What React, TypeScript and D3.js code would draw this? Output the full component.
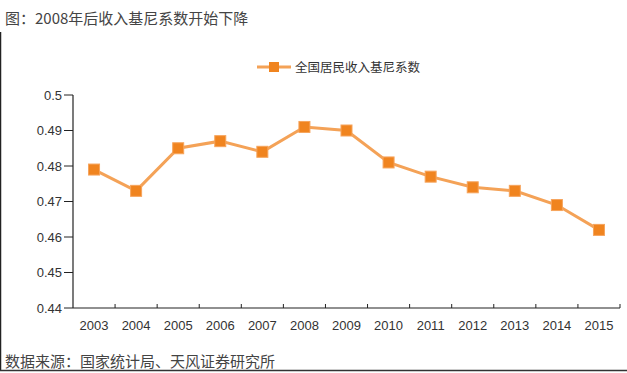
import * as d3 from "d3";
import { useEffect, useRef } from "react";

const years = ["2003", "2004", "2005", "2006", "2007", "2008", "2009", "2010", "2011", "2012", "2013", "2014", "2015"];
const gini = [0.479, 0.473, 0.485, 0.487, 0.484, 0.491, 0.49, 0.481, 0.477, 0.474, 0.473, 0.469, 0.462];
const yTicks = [0.44, 0.45, 0.46, 0.47, 0.48, 0.49, 0.5];
const seriesName = "全国居民收入基尼系数";
const title = "图：2008年后收入基尼系数开始下降";
const source = "数据来源：国家统计局、天风证券研究所";

const W = 627;
const H = 373;
const LINE = "#F4A257";
const MARK = "#F0841F";
const TEXT = "#333";
const CJK = "'Noto Sans CJK SC', 'Noto Sans', sans-serif";
const LATIN = "'Liberation Sans', Arial, sans-serif";

const GiniChart = () => {
  const svgRef = useRef<SVGSVGElement>(null);

  useEffect(() => {
    const margin = { top: 95, right: 7, bottom: 65, left: 73 };
    const svg = d3.select(svgRef.current);
    svg.selectAll("*").remove();
    svg.attr("width", W).attr("height", H);

    svg.append("rect").attr("width", W).attr("height", H).attr("fill", "#fff");

    // frame edges left over from the screenshot
    svg.append("line").attr("x1", 0.5).attr("x2", 0.5).attr("y1", 32).attr("y2", 370).attr("stroke", "#222").attr("stroke-width", 1.5);
    svg.append("line").attr("x1", 0).attr("x2", W).attr("y1", 370.5).attr("y2", 370.5).attr("stroke", "#333").attr("stroke-width", 1.5);

    const xScale = d3
      .scaleBand()
      .domain(years)
      .range([margin.left, W - margin.right]);

    const yScale = d3
      .scaleLinear()
      .domain([0.44, 0.5])
      .range([H - margin.bottom, margin.top]);

    const y0 = yScale(0.44);

    // y axis
    svg.append("line").attr("x1", margin.left).attr("x2", margin.left).attr("y1", yScale(0.5)).attr("y2", y0).attr("stroke", "#222").attr("stroke-width", 1.2);
    svg
      .selectAll(".ytick")
      .data(yTicks)
      .enter()
      .append("line")
      .attr("x1", margin.left - 9)
      .attr("x2", margin.left)
      .attr("y1", (d) => yScale(d))
      .attr("y2", (d) => yScale(d))
      .attr("stroke", "#222");
    svg
      .selectAll(".ylabel")
      .data(yTicks)
      .enter()
      .append("text")
      .attr("x", margin.left - 11)
      .attr("y", (d) => yScale(d) + 4.5)
      .attr("text-anchor", "end")
      .attr("fill", TEXT)
      .attr("font-size", 13)
      .attr("font-family", LATIN)
      .text((d) => String(d));

    // x axis
    svg.append("line").attr("x1", margin.left).attr("x2", W - margin.right).attr("y1", y0).attr("y2", y0).attr("stroke", "#222").attr("stroke-width", 1.2);
    svg
      .selectAll(".xtick")
      .data(years)
      .enter()
      .append("line")
      .attr("x1", (d) => xScale(d)! + xScale.bandwidth())
      .attr("x2", (d) => xScale(d)! + xScale.bandwidth())
      .attr("y1", y0 - 4)
      .attr("y2", y0)
      .attr("stroke", "#222");
    svg
      .selectAll(".xlabel")
      .data(years)
      .enter()
      .append("text")
      .attr("x", (d) => xScale(d)! + xScale.bandwidth() / 2)
      .attr("y", y0 + 22)
      .attr("text-anchor", "middle")
      .attr("fill", TEXT)
      .attr("font-size", 13)
      .attr("font-family", LATIN)
      .text((d) => d);

    const pts = years.map((yr, i) => ({ yr, v: gini[i] }));
    const line = d3
      .line<{ yr: string; v: number }>()
      .x((d) => xScale(d.yr)! + xScale.bandwidth() / 2)
      .y((d) => yScale(d.v));

    svg.append("path").attr("d", line(pts)).attr("fill", "none").attr("stroke", LINE).attr("stroke-width", 3);

    const s = 11;
    svg
      .selectAll(".dot")
      .data(pts)
      .enter()
      .append("rect")
      .attr("x", (d) => xScale(d.yr)! + xScale.bandwidth() / 2 - s / 2)
      .attr("y", (d) => yScale(d.v) - s / 2)
      .attr("width", s)
      .attr("height", s)
      .attr("fill", MARK)
      .attr("stroke", "#F6A45C")
      .attr("stroke-width", 1);

    // legend
    const ly = 67;
    svg.append("line").attr("x1", 257).attr("x2", 291).attr("y1", ly).attr("y2", ly).attr("stroke", LINE).attr("stroke-width", 3);
    svg.append("rect").attr("x", 269).attr("y", ly - 5).attr("width", 10).attr("height", 10).attr("fill", MARK);
    svg
      .append("text")
      .attr("x", 295)
      .attr("y", ly + 4.5)
      .attr("fill", TEXT)
      .attr("font-size", 12.5)
      .attr("font-family", CJK)
      .text(seriesName);

    svg
      .append("text")
      .attr("x", 5)
      .attr("y", 24)
      .attr("fill", "#444")
      .attr("font-size", 15)
      .attr("font-family", CJK)
      .text(title);

    svg
      .append("text")
      .attr("x", 5)
      .attr("y", 367)
      .attr("fill", "#444")
      .attr("font-size", 15)
      .attr("font-family", CJK)
      .text(source);
  }, []);

  return <svg ref={svgRef} style={{ position: "absolute", left: 0, top: 0 }}></svg>;
};

export default function App() {
  return <GiniChart />;
}
